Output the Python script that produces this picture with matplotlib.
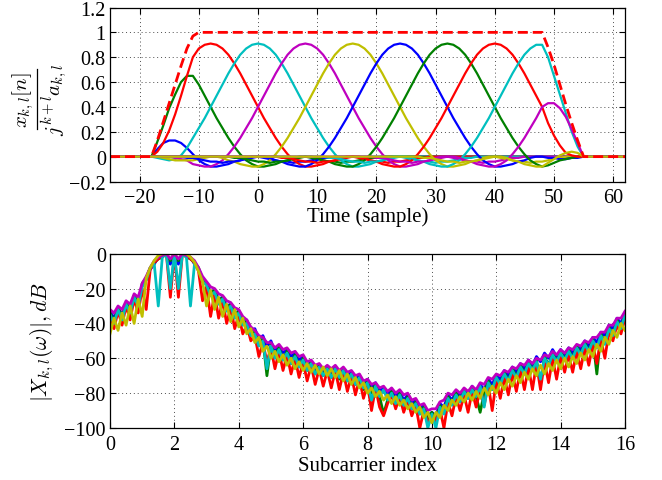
import numpy as np
import matplotlib
matplotlib.use("Agg")
import matplotlib.pyplot as plt
from matplotlib.lines import Line2D

plt.rcParams['font.family'] = ['Liberation Serif', 'DejaVu Serif']
plt.rcParams['mathtext.fontset'] = 'cm'

# ---- top panel: pulses x_{k,l}[n] / (j^{k+l} a_{k,l}), samples n = -18..55
n = np.arange(-18, 56)

blue1 = [0, .06, .11, .13, .13, .11, .07, .02, -.03, -.06,
         -.08, -.08, -.07, -.06, -.04, -.03, -.01, 0, 0, -.01,
         -.02, -.03, -.04, -.04, -.05, -.04, -.04, -.03, -.02, -.01,
         -.01] + [0] * 43
green1 = [0, .12, .25, .39, .50, .60, .65, .65, .58, .49,
          .40, .31, .23, .15, .08, .02, -.03, -.06, -.08, -.08,
          -.07, -.06, -.04, -.03, -.01, 0, 0, -.01, -.02, -.03,
          -.04, -.04, -.05, -.04, -.04, -.03, -.02, -.01, -.01] + [0] * 35
red1 = [0, .04, .11, .21, .34, .49, .65, .80, .87, .90,
        .91, .90, .87, .82, .75, .67, .58, .49, .40, .31,
        .23, .15, .08, .02, -.03, -.06, -.08, -.08, -.07, -.06,
        -.04, -.03, -.01, 0, 0, -.01, -.02, -.03, -.04, -.04,
        -.05, -.04, -.04, -.03, -.02, -.01, -.01] + [0] * 27
cyan1 = [0, -.01, -.02, -.03, -.02, .01, .07, .15, .23, .31,
         .40, .49, .58, .67, .75, .82, .87, .90, .91, .90,
         .87, .82, .75, .67, .58, .49, .40, .31, .23, .15,
         .08, .02, -.03, -.06, -.08, -.08, -.07, -.06, -.04, -.03,
         -.01, 0, 0, -.01, -.02, -.03, -.04, -.04, -.05, -.04,
         -.04, -.03, -.02, -.01, -.01] + [0] * 19
magenta1 = [0, 0, 0, 0, -.01, -.02, -.03, -.06, -.07, -.08,
            -.08, -.06, -.03, .02, .08, .15, .23, .31, .40, .49,
            .58, .67, .75, .82, .87, .90, .91, .90, .87, .82,
            .75, .67, .58, .49, .40, .31, .23, .15, .08, .02,
            -.03, -.06, -.08, -.08, -.07, -.06, -.04, -.03, -.01, 0,
            0, -.01, -.02, -.03, -.04, -.04, -.05, -.04, -.04, -.03,
            -.02, -.01, -.01] + [0] * 11
yellow1 = [0, 0, -.01, -.02, -.03, -.03, -.03, -.03, -.02, -.01,
           0, 0, -.01, -.03, -.04, -.06, -.07, -.08, -.08, -.06,
           -.03, .02, .08, .15, .23, .31, .40, .49, .58, .67,
           .75, .82, .87, .90, .91, .90, .87, .82, .75, .67,
           .58, .49, .40, .31, .23, .15, .08, .02, -.03, -.06,
           -.08, -.08, -.07, -.06, -.04, -.03, -.01, 0, 0, -.01,
           -.02, -.03, -.04, -.04, -.05, -.04, -.04, -.03, -.01, -.01,
           0, 0, 0, 0]
blue2 = [0] * 6 + [-.01, -.01, -.02, -.03,
                   -.04, -.04, -.05, -.04, -.04, -.03, -.02, -.01, 0, 0,
                   -.01, -.03, -.04, -.06, -.07, -.08, -.08, -.06, -.03, .02,
                   .08, .15, .23, .31, .40, .49, .58, .67, .75, .82,
                   .87, .90, .91, .90, .87, .82, .75, .67, .58, .49,
                   .40, .31, .23, .15, .08, .02, -.03, -.06, -.08, -.08,
                   -.07, -.06, -.04, -.03, -.01, 0, 0, -.01, -.01, -.02,
                   -.02, -.01, -.01, 0]
green2 = [0] * 14 + [-.01, -.01, -.02, -.03, -.04, -.04,
                     -.05, -.04, -.04, -.03, -.02, -.01, 0, 0, -.01, -.03,
                     -.04, -.06, -.07, -.08, -.08, -.06, -.03, .02, .08, .15,
                     .23, .31, .40, .49, .58, .67, .75, .82, .87, .90,
                     .91, .90, .87, .82, .75, .67, .58, .49, .40, .31,
                     .23, .15, .08, .02, -.03, -.06, -.08, -.07, -.05, -.03,
                     -.02, -.01, 0, 0]
red2 = [0] * 22 + [-.01, -.01, -.02, -.03, -.04, -.04, -.05, -.04,
                   -.04, -.03, -.02, -.01, 0, 0, -.01, -.03, -.04, -.06,
                   -.07, -.08, -.08, -.06, -.03, .02, .08, .15, .23, .31,
                   .40, .49, .58, .67, .75, .82, .87, .90, .91, .90,
                   .87, .82, .75, .67, .58, .49, .40, .27, .17, .09,
                   .03, .01, 0, 0]
cyan2 = [0] * 30 + [-.01, -.01, -.02, -.03, -.04, -.04, -.05, -.04, -.04, -.03,
                    -.02, -.01, 0, 0, -.01, -.03, -.04, -.06, -.07, -.08,
                    -.08, -.06, -.03, .02, .08, .15, .23, .31, .40, .49,
                    .58, .67, .75, .82, .87, .90, .90, .80, .65, .50,
                    .35, .20, .08, 0]
magenta2 = [0] * 38 + [-.01, -.01,
                       -.02, -.03, -.04, -.04, -.05, -.04, -.04, -.03, -.02, -.01,
                       0, 0, -.01, -.03, -.04, -.06, -.07, -.08, -.08, -.06,
                       -.03, .02, .08, .15, .23, .31, .40, .43, .43, .39,
                       .32, .22, .11, 0]
yellow2 = [0] * 46 + [-.01, -.01, -.02, -.03,
                      -.04, -.04, -.05, -.04, -.04, -.03, -.02, -.01, 0, 0,
                      -.01, -.03, -.04, -.06, -.07, -.08, -.08, -.05, -.02, .01,
                      .03, .04, .03, 0]
envelope = [0, .13, .28, .43, .58, .73, .87, .97] + [1] * 59 + [.88, .74, .58, .42, .27, .13, 0]

pulses = [blue1, green1, red1, cyan1, magenta1, yellow1,
          blue2, green2, red2, cyan2, magenta2, yellow2]

# ---- bottom panel: |X_{k,l}(w)| in dB, subcarrier 0..16 step 1/8
sub = np.linspace(0, 16, 129)
spec_b = [-33, -37, -31, -35, -28, -32, -24, -28,
          -18, -15, -9, -6, -2, -1, 0, -6,
          0, -6, 0, -1, -2, -6, -9, -16,
          -17, -22, -21, -26, -25, -30, -29, -34,
          -33, -38, -38, -44, -43, -49, -47, -53,
          -50, -56, -53, -57, -55, -59, -57, -61,
          -59, -64, -62, -66, -64, -68, -65, -69,
          -65, -69, -66, -70, -68, -72, -70, -75,
          -72, -77, -74, -79, -77, -81, -78, -82,
          -79, -84, -81, -86, -84, -89, -87, -93,
          -91, -93, -86, -88, -81, -84, -79, -82,
          -78, -81, -76, -80, -75, -78, -72, -75,
          -70, -72, -67, -70, -65, -68, -63, -66,
          -61, -64, -59, -62, -57, -60, -55, -59,
          -55, -58, -54, -57, -53, -55, -50, -53,
          -48, -51, -45, -47, -41, -43, -37, -40,
          -34]
spec_g = [-34, -39, -31, -37, -28, -34, -24, -30,
          -17, -14, -8, -5, -3, -2, 0, -4,
          0, -4, 0, -2, -3, -5, -8, -15,
          -17, -23, -21, -28, -25, -32, -29, -36,
          -33, -40, -39, -46, -45, -52, -49, -70,
          -52, -59, -54, -61, -56, -63, -58, -65,
          -60, -67, -62, -69, -64, -70, -65, -71,
          -66, -72, -67, -73, -69, -75, -71, -78,
          -73, -80, -75, -82, -92, -84, -79, -86,
          -80, -87, -82, -89, -85, -92, -88, -95,
          -91, -96, -87, -91, -82, -86, -80, -84,
          -79, -83, -77, -82, -91, -80, -73, -78,
          -71, -75, -68, -73, -66, -71, -64, -69,
          -62, -67, -61, -74, -59, -64, -57, -62,
          -56, -61, -55, -60, -53, -58, -51, -56,
          -49, -69, -46, -51, -42, -47, -38, -43,
          -34]
spec_r = [-36, -43, -33, -41, -30, -38, -26, -34,
          -20, -32, -9, -5, -3, -1, 0, -25,
          0, -25, 0, -1, -3, -5, -10, -27,
          -19, -36, -23, -37, -27, -40, -31, -43,
          -35, -46, -41, -50, -47, -59, -51, -62,
          -54, -66, -56, -67, -58, -69, -60, -71,
          -62, -73, -64, -75, -66, -76, -67, -77,
          -67, -78, -68, -79, -70, -81, -72, -83,
          -75, -90, -77, -88, -93, -86, -81, -89,
          -82, -91, -84, -93, -87, -100, -90, -97,
          -93, -96, -89, -100, -85, -93, -82, -90,
          -81, -91, -79, -88, -78, -87, -75, -90,
          -73, -83, -71, -81, -69, -79, -67, -78,
          -65, -78, -63, -78, -62, -74, -60, -72,
          -59, -68, -58, -68, -56, -66, -54, -64,
          -52, -63, -49, -60, -45, -50, -41, -46,
          -37]
spec_c = [-35, -40, -32, -38, -29, -34, -25, -30,
          -19, -15, -8, -6, -30, -2, 0, -20,
          0, -20, 0, -2, -30, -6, -9, -16,
          -18, -24, -22, -29, -26, -33, -30, -37,
          -34, -41, -40, -47, -46, -53, -50, -66,
          -53, -60, -55, -61, -57, -63, -59, -65,
          -61, -67, -63, -69, -65, -70, -66, -71,
          -66, -71, -67, -73, -69, -75, -71, -77,
          -74, -84, -76, -82, -78, -84, -80, -86,
          -81, -87, -83, -89, -86, -92, -89, -100,
          -92, -100, -88, -92, -83, -87, -81, -85,
          -79, -83, -78, -82, -76, -88, -74, -78,
          -71, -75, -69, -73, -67, -71, -65, -69,
          -63, -67, -62, -72, -60, -64, -58, -62,
          -57, -61, -56, -60, -54, -58, -52, -56,
          -50, -54, -47, -52, -43, -47, -39, -43,
          -35]
spec_m = [-32, -34, -30, -32, -27, -29, -23, -25,
          -17, -13, -8, -4, -2, -1, 0, -3,
          0, -3, 0, -1, -2, -4, -8, -13,
          -16, -19, -20, -23, -24, -27, -28, -31,
          -32, -36, -38, -42, -44, -47, -48, -51,
          -51, -54, -52, -55, -54, -57, -56, -59,
          -58, -62, -61, -64, -63, -66, -64, -66,
          -64, -67, -65, -68, -67, -70, -69, -73,
          -72, -75, -74, -77, -76, -79, -77, -80,
          -78, -81, -80, -84, -83, -87, -86, -90,
          -89, -89, -85, -84, -80, -81, -78, -80,
          -77, -79, -76, -78, -74, -75, -71, -72,
          -69, -70, -67, -68, -65, -66, -63, -64,
          -61, -63, -60, -61, -58, -59, -56, -58,
          -55, -57, -54, -55, -52, -53, -50, -51,
          -48, -48, -45, -45, -41, -41, -37, -37,
          -33]
spec_y = [-46, -37, -44, -34, -41, -30, -40, -26,
          -36, -14, -8, -4, -1, 0, 0, 0,
          0, 0, 0, 0, -2, -5, -10, -16,
          -30, -21, -32, -25, -36, -29, -39, -32,
          -42, -37, -46, -43, -51, -48, -56, -53,
          -60, -56, -62, -58, -64, -60, -66, -62,
          -67, -63, -68, -64, -69, -65, -70, -66,
          -71, -67, -73, -69, -75, -71, -77, -74,
          -80, -77, -82, -79, -84, -81, -86, -82,
          -87, -84, -89, -86, -91, -88, -94, -91,
          -97, -91, -94, -87, -90, -84, -87, -82,
          -85, -80, -84, -79, -83, -77, -81, -76,
          -80, -74, -78, -72, -76, -70, -74, -68,
          -72, -66, -70, -64, -69, -63, -67, -61,
          -66, -60, -65, -59, -63, -57, -61, -55,
          -59, -52, -56, -48, -52, -44, -48, -40,
          -44]
spectra = [spec_b, spec_g, spec_r, spec_c, spec_m, spec_y]

colors = ['#0000ff', '#008000', '#ff0000', '#00bfbf', '#bf00bf', '#bfbf00']

top_xticks = [-20, -10, 0, 10, 20, 30, 40, 50, 60]
top_yticks = [-0.2, 0, 0.2, 0.4, 0.6, 0.8, 1, 1.2]
top_yticklabels = ['\u22120.2', '0', '0.2', '0.4', '0.6', '0.8', '1', '1.2']
bot_xticks = [0, 2, 4, 6, 8, 10, 12, 14, 16]
bot_yticks = [-100, -80, -60, -40, -20, 0]

W, H = 662, 481


def style(ax):
    ax.grid(True, linestyle=(0, (1, 3)), color='0.3', linewidth=0.7)
    ax.tick_params(direction='in', top=True, right=True, length=4, width=0.8,
                   labelsize=14.5, pad=5)
    ax.tick_params(axis='y', pad=3)
    for sp in ax.spines.values():
        sp.set_linewidth(0.9)


fig = plt.figure(figsize=(6.62, 4.81), dpi=100)

ax1 = fig.add_axes([110 / W, 1 - 182.5 / H, 515 / W, 174 / H])
t = np.r_[-25, n, 62]
for i, p in enumerate(pulses):
    ax1.plot(t, np.r_[0, p, 0], color=colors[i % 6], lw=1.6)
ax1.plot(t, np.r_[0, envelope, 0], color='#ff0000', lw=2, dashes=(3.6, 1.8))
ax1.set_xlim(-25, 62)
ax1.set_ylim(-0.2, 1.2)
ax1.set_xticks(top_xticks)
ax1.set_xticklabels([str(v).replace('-', '\u2212') for v in top_xticks])
ax1.set_yticks(top_yticks)
ax1.set_yticklabels(top_yticklabels)
style(ax1)
ax1.set_xlabel('Time (sample)', fontsize=15)
ax1.xaxis.set_label_coords(0.5, -0.145)

# y label of the top panel: a stacked fraction, rotated
fig.text(27 / W, 1 - 100 / H, r'$x_{k,l}[n]$', rotation=90, fontsize=15,
         ha='center', va='baseline', rotation_mode='anchor')
fig.text(61 / W, 1 - 100 / H, r'$j^{k+l}a_{k,l}$', rotation=90, fontsize=15,
         ha='center', va='baseline', rotation_mode='anchor')
fig.add_artist(Line2D([36.5 / W, 36.5 / W], [1 - 70 / H, 1 - 130 / H],
                      color='black', lw=0.9))

ax2 = fig.add_axes([110 / W, 1 - 429 / H, 515 / W, 174.3 / H])
for i, s in enumerate(spectra):
    ax2.plot(sub, s, color=colors[i], lw=2)
ax2.set_xlim(0, 16)
ax2.set_ylim(-100, 0)
ax2.set_xticks(bot_xticks)
ax2.set_yticks(bot_yticks)
ax2.set_yticklabels([str(v).replace('-', '\u2212') for v in bot_yticks])
style(ax2)
ax2.set_xlabel('Subcarrier index', fontsize=15)
ax2.xaxis.set_label_coords(0.5, -0.16)
ax2.set_ylabel(r'$|X_{k,l}(\omega)|, dB$', fontsize=15.5)
ax2.yaxis.set_label_coords(-0.105, 0.5)

fig.savefig('out.png', dpi=100)
